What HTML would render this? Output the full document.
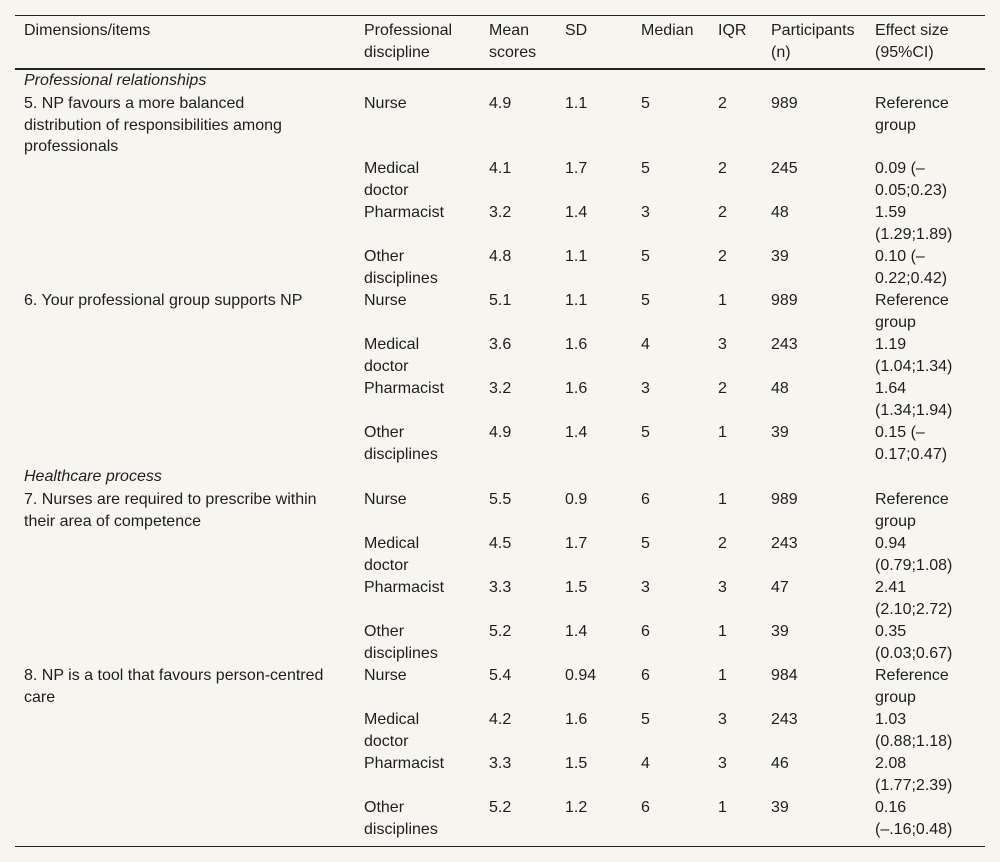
<!DOCTYPE html>
<html><head><meta charset="utf-8"><style>
body{margin:0;width:1000px;height:862px;background:#f7f5f0;font-family:"Liberation Sans",sans-serif;font-size:16px;color:#1e1e1e;position:relative;overflow:hidden}
.c{position:absolute;line-height:21.5px;white-space:nowrap}
.line{position:absolute;left:15px;width:970px;background:#222}
i{font-style:italic}
</style></head><body>
<div class="line" style="top:15px;height:1px"></div>
<div class="line" style="top:68px;height:2px"></div>
<div class="line" style="top:846px;height:1px"></div>
<div id="t"></div>
<script>
const cols=[24,364,489,565,641,718,771,875];
const header=["Dimensions/items","Professional<br>discipline","Mean<br>scores","SD","Median","IQR","Participants<br>(n)","Effect size<br>(95%CI)"];
const rows=[
[31,header,'header'],
[81,["<i>Professional relationships</i>"],'section'],
[104,["5. NP favours a more balanced<br>distribution of responsibilities among<br>professionals","Nurse","4.9","1.1","5","2","989","Reference<br>group"]],
[169,["","Medical<br>doctor","4.1","1.7","5","2","245","0.09 (–<br>0.05;0.23)"]],
[213,["","Pharmacist","3.2","1.4","3","2","48","1.59<br>(1.29;1.89)"]],
[257,["","Other<br>disciplines","4.8","1.1","5","2","39","0.10 (–<br>0.22;0.42)"]],
[301,["6. Your professional group supports NP","Nurse","5.1","1.1","5","1","989","Reference<br>group"]],
[345,["","Medical<br>doctor","3.6","1.6","4","3","243","1.19<br>(1.04;1.34)"]],
[389,["","Pharmacist","3.2","1.6","3","2","48","1.64<br>(1.34;1.94)"]],
[433,["","Other<br>disciplines","4.9","1.4","5","1","39","0.15 (–<br>0.17;0.47)"]],
[477,["<i>Healthcare process</i>"],'section'],
[500,["7. Nurses are required to prescribe within<br>their area of competence","Nurse","5.5","0.9","6","1","989","Reference<br>group"]],
[544,["","Medical<br>doctor","4.5","1.7","5","2","243","0.94<br>(0.79;1.08)"]],
[588,["","Pharmacist","3.3","1.5","3","3","47","2.41<br>(2.10;2.72)"]],
[632,["","Other<br>disciplines","5.2","1.4","6","1","39","0.35<br>(0.03;0.67)"]],
[676,["8. NP is a tool that favours person-centred<br>care","Nurse","5.4","0.94","6","1","984","Reference<br>group"]],
[720,["","Medical<br>doctor","4.2","1.6","5","3","243","1.03<br>(0.88;1.18)"]],
[764,["","Pharmacist","3.3","1.5","4","3","46","2.08<br>(1.77;2.39)"]],
[808,["","Other<br>disciplines","5.2","1.2","6","1","39","0.16<br>(–.16;0.48)"]]
];
const t=document.getElementById('t');
rows.forEach((r,ri)=>{
 r[1].forEach((txt,ci)=>{
  if(!txt)return;
  const d=document.createElement('div');
  d.className='c';
  d.style.left=cols[ci]+'px';
  d.style.top=(r[0]-11)+'px';
  d.innerHTML=txt;
  
  
  t.appendChild(d);
 });
});
</script>
</body></html>
